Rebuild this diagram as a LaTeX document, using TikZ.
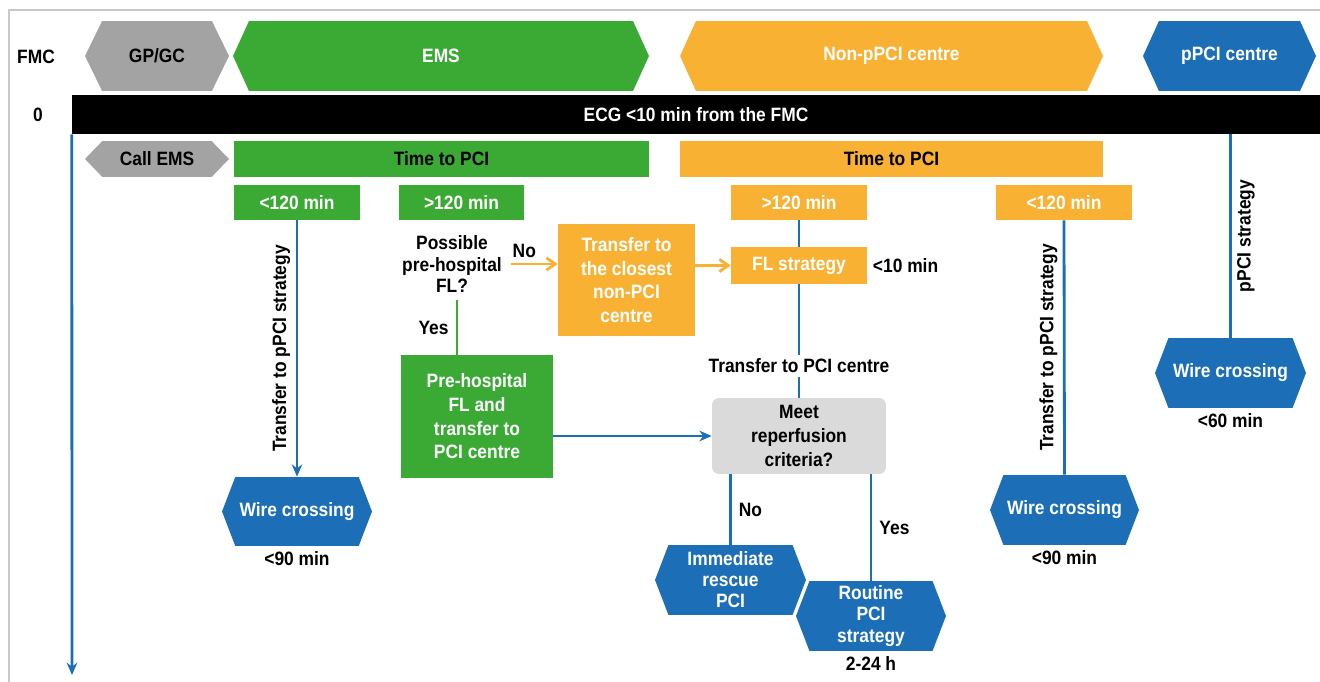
\documentclass[tikz,border=0pt]{standalone}
\usepackage{fontspec}
\setmainfont{Liberation Sans}[FakeStretch=0.9]
\usepackage{xcolor}
\usetikzlibrary{arrows.meta,shapes.symbols,positioning}

\definecolor{emsgreen}{HTML}{3AAA35}
\definecolor{centreorange}{HTML}{F8B133}
\definecolor{pciblue}{HTML}{1C6FB6}
\definecolor{gpgray}{HTML}{A3A3A3}
\definecolor{boxgray}{HTML}{DADADA}
\definecolor{framegray}{HTML}{C8C8C8}

\begin{document}
\begin{tikzpicture}[x=0.02cm,y=-0.02cm]

\tikzset{every node/.style={font=\fontsize{11}{13.5}\selectfont\bfseries, align=center, inner sep=0pt},
  hexbox/.style={signal, signal to=east and west, signal pointer angle=138, fill=#1, minimum height=1.4cm},
  tbox/.style={rectangle, fill=#1},
  blueline/.style={draw=pciblue, line width=1.6pt},
  bluearrow/.style={blueline, -{Stealth[length=7pt,width=6pt]}},
  orangearrow/.style={draw=centreorange, line width=1.6pt, -{Straight Barb[length=5pt,width=7pt]}},
  greenline/.style={draw=emsgreen, line width=1.6pt},
  sidelabel/.style={rotate=90, inner sep=3pt}}

\useasboundingbox (0,0) rectangle (1320,682);
\draw[framegray, line width=1.1pt] (1320,10) -- (9,10) -- (9,682);

% header row
\node (fmc) at (36,57) {FMC};
\node[hexbox=gpgray, minimum width=2.88cm, signal pointer angle=128] (gpgc) at (157,56) {GP/GC};
\node[hexbox=emsgreen, minimum width=8.32cm, signal pointer angle=131, text=white] (ems) at (441,56) {EMS};
\node[hexbox=centreorange, minimum width=8.46cm, signal pointer angle=131, text=white] (nonppci) at (891.5,56) {Non-pPCI centre};
\node[hexbox=pciblue, minimum width=3.46cm, signal pointer angle=131, text=white] (ppci) at (1229.5,56) {pPCI centre};

\node (zero) at (38,115) {0};
\node[tbox=black, text=white, minimum width=24.96cm, minimum height=0.78cm] (ecg) at (696,114.5) {ECG <10 min from the FMC};
\coordinate (tend) at (72,675);
\draw[bluearrow] (ecg.south west) -- (tend);

% time to PCI
\node[hexbox=gpgray, minimum width=2.88cm, minimum height=0.72cm, signal pointer angle=92] (callems) at (157,159) {Call EMS};
\node[tbox=emsgreen, minimum width=8.3cm, minimum height=0.72cm] (timeg) at (441.5,159) {Time to PCI};
\node[tbox=centreorange, minimum width=8.46cm, minimum height=0.72cm] (timeo) at (891.5,159) {Time to PCI};

\node[tbox=emsgreen, text=white, minimum width=2.52cm, minimum height=0.7cm] (ltg) at (297,202.5) {<120 min};
\node[tbox=emsgreen, text=white, minimum width=2.5cm, minimum height=0.7cm] (gtg) at (461.5,202.5) {>120 min};
\node[tbox=centreorange, text=white, minimum width=2.72cm, minimum height=0.7cm] (gto) at (799,202.5) {>120 min};
\node[tbox=centreorange, text=white, minimum width=2.72cm, minimum height=0.7cm] (lto) at (1064,202.5) {<120 min};

% EMS branch
\node[font=\fontsize{11}{12}\selectfont\bfseries] (poss) at (452,264) {Possible\\pre-hospital\\FL?};
\node[tbox=centreorange, text=white, minimum width=2.74cm, minimum height=2.24cm] (closest) at (626.5,280) {Transfer to\\the closest\\non-PCI\\centre};
\node[tbox=centreorange, text=white, minimum width=2.72cm, minimum height=0.74cm] (fl) at (799,265.5) {FL strategy};
\node[right=3pt of fl] (ten) {<10 min};
\node[tbox=emsgreen, text=white, minimum width=3.04cm, minimum height=2.46cm] (pre) at (477,416.5) {Pre-hospital\\FL and\\transfer to\\PCI centre};
\node[inner sep=2pt] (xfer) at (799,366) {Transfer to PCI centre};
\node[tbox=boxgray, rounded corners=4pt, minimum width=3.48cm, minimum height=1.52cm] (meet) at (799,436) {Meet\\reperfusion\\criteria?};

\node[hexbox=pciblue, text=white, minimum width=3cm, minimum height=1.38cm] (wire1) at (297,511.5) {Wire crossing};
\node[below=3pt of wire1] (ninety1) {<90 min};
\node[hexbox=pciblue, text=white, minimum width=3.02cm, font=\fontsize{11}{12}\selectfont\bfseries] (rescue) at (730.5,580) {Immediate\\rescue\\PCI};
\node[hexbox=pciblue, text=white, minimum width=3cm, font=\fontsize{11}{12}\selectfont\bfseries] (routine) at (871,616) {Routine\\PCI\\strategy};
\node[below=3pt of routine] (hours) {2-24 h};
\node[hexbox=pciblue, text=white, minimum width=2.98cm] (wire2) at (1064.5,510) {Wire crossing};
\node[below=3pt of wire2] (ninety2) {<90 min};
\node[hexbox=pciblue, text=white, minimum width=3.02cm] (wire3) at (1230.5,373) {Wire crossing};
\node[below=3pt of wire3] (sixty) {<60 min};

% connectors
\draw[bluearrow] (ltg.south) -- node[midway, sidelabel, anchor=south] {Transfer to pPCI strategy} (wire1.north);
\draw[greenline] ([xshift=0.1cm,yshift=-0.16cm]poss.south) -- node[midway, left=4pt] {Yes} ([xshift=0.1cm]poss.south |- pre.north);
\draw[orangearrow, shorten <=5pt] (poss.east) -- node[pos=0.4, above=3pt] {No} (poss.east -| closest.west);
\draw[orangearrow] (closest.east |- fl.west) -- (fl.west);
\draw[blueline] (gto.south) -- (fl.north);
\draw[blueline] (fl.south) -- (xfer.north);
\draw[blueline] (xfer.south) -- (meet.north);
\draw[bluearrow] (pre.east |- meet.west) -- (meet.west);
\draw[blueline] (meet.south -| rescue.north) -- node[midway, right=4pt] {No} (rescue.north);
\draw[blueline] (meet.south -| routine.north) -- node[midway, right=4pt] {Yes} (routine.north);
\draw[blueline] (lto.south) -- node[midway, sidelabel, anchor=south] {Transfer to pPCI strategy} (wire2.north);
\draw[blueline] (ecg.south -| wire3.north) -- node[midway, sidelabel, anchor=north] {pPCI strategy} (wire3.north);

\end{tikzpicture}
\end{document}
